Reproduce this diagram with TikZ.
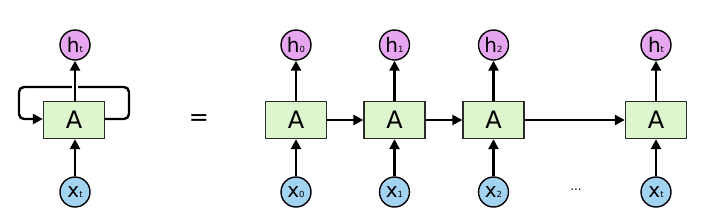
\documentclass[tikz,border=0pt]{standalone}
\usepackage{fontspec}
\setmainfont{DejaVu Sans}
\usetikzlibrary{arrows.meta}
\definecolor{hfill}{HTML}{E6A6F0}
\definecolor{xfill}{HTML}{A2D4F2}
\definecolor{afill}{HTML}{DEF6CE}
\definecolor{edge}{HTML}{2A2A2A}
\newcommand{\lbl}[2]{{\fontsize{20}{20}\selectfont #1}\raisebox{-0.5pt}{\fontsize{8.5}{8.5}\selectfont #2}}
\tikzset{
  cell/.style={draw=edge, line width=1.3pt, fill=afill, minimum width=61pt, minimum height=37pt, inner sep=0pt, font=\fontsize{24}{24}\selectfont},
  hnode/.style={circle, draw=black, line width=1.4pt, fill=hfill, minimum size=30pt, inner sep=0pt},
  xnode/.style={circle, draw=black, line width=1.4pt, fill=xfill, minimum size=30pt, inner sep=0pt},
  arr/.style={line width=2.4pt, -{Triangle[length=10pt,width=10pt]}},
}
\begin{document}
\begin{tikzpicture}[x=1pt,y=-1pt]
\useasboundingbox (0,0) rectangle (718,218);
% left folded
\node[cell] (A) at (74,120) {A};
\node[hnode] (h) at (75,45) {\lbl{h}{t}};
\node[xnode] (x) at (75,192) {\lbl{x}{t}};
\coordinate (r1) at (129,119);
\coordinate (r2) at (129,87);
\coordinate (l1) at (19,87);
\coordinate (l2) at (19,119);
\draw[arr, rounded corners=5pt] (A.east |- r1) -- (r1) -- (r2) -- (l1) -- (l2) -- (A.west |- l2);
\draw[white, line width=6pt, shorten >=12pt] (A.north -| h) -- (h.south);
\draw[arr] (A.north -| h) -- (h.south);
\draw[arr] (x.north) -- (A.south -| x);
% equals
\node[font=\fontsize{24}{24}\selectfont] (eq) at (199,120) {=};
% unrolled
\node[cell] (A0) at (296,120) {A};
\node[cell] (A1) at (394.5,120) {A};
\node[cell] (A2) at (493.5,120) {A};
\node[cell] (At) at (656,120) {A};
\node[hnode] (h0) at (296,45) {\lbl{h}{0}};
\node[hnode] (h1) at (394.5,45) {\lbl{h}{1}};
\node[hnode] (h2) at (493.5,45) {\lbl{h}{2}};
\node[hnode] (ht) at (656,45) {\lbl{h}{t}};
\node[xnode] (x0) at (296,192) {\lbl{x}{0}};
\node[xnode] (x1) at (394.5,192) {\lbl{x}{1}};
\node[xnode] (x2) at (493.5,192) {\lbl{x}{2}};
\node[xnode] (xt) at (656,192) {\lbl{x}{t}};
\node[font=\fontsize{12}{12}\selectfont] (dots) at (576,190) {...};
\foreach \i in {0,1,2,t}{
  \draw[arr] (A\i) -- (h\i);
  \draw[arr] (x\i) -- (A\i);
}
\draw[arr] (A0) -- (A1);
\draw[arr] (A1) -- (A2);
\draw[arr] (A2) -- (At);
\end{tikzpicture}
\end{document}
